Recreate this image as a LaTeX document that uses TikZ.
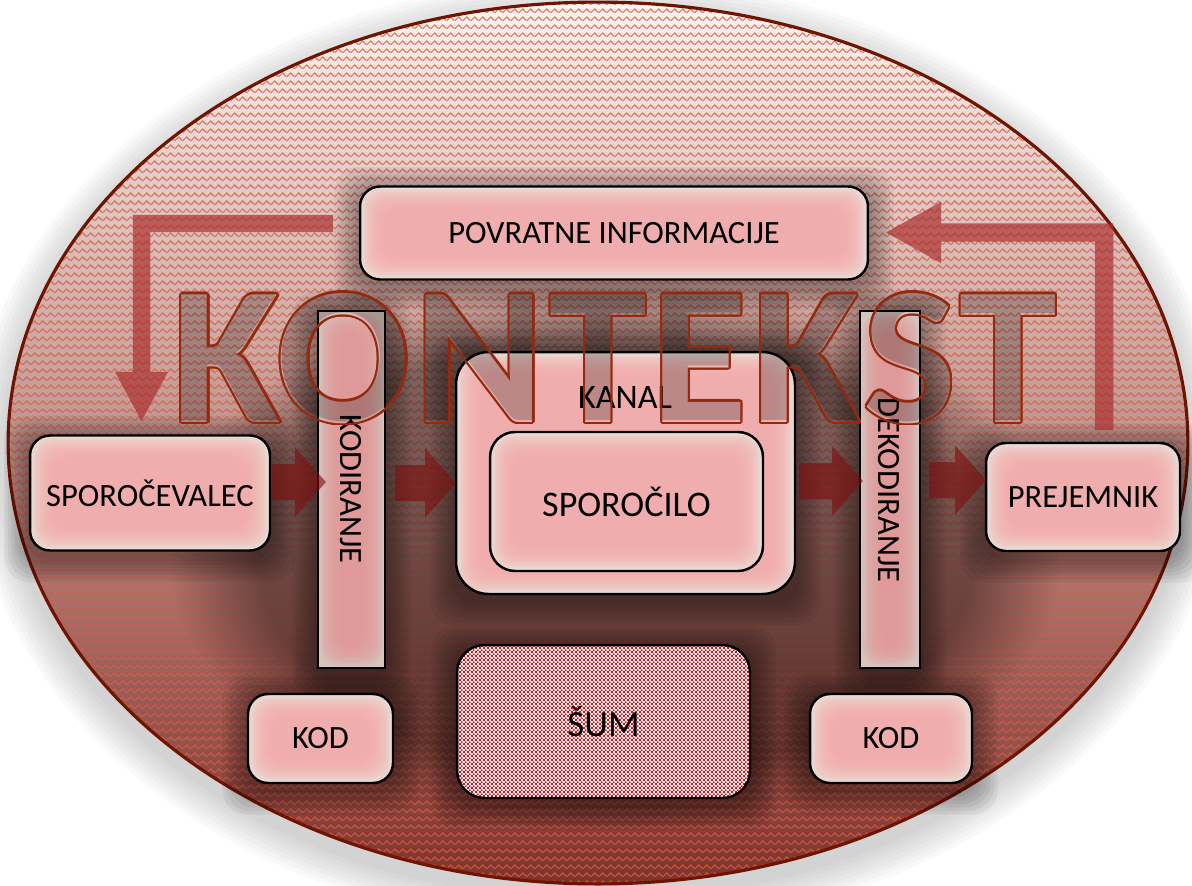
\documentclass[tikz,border=0pt]{standalone}
\usepackage{fontspec}
\setmainfont{Carlito}
\usetikzlibrary{arrows.meta,patterns,fadings}
\definecolor{boxpink}{RGB}{244,170,170}
\definecolor{boxbeige}{RGB}{234,222,214}
\definecolor{barpink}{RGB}{226,150,150}
\definecolor{barbeige}{RGB}{214,196,190}
\definecolor{ellborder}{RGB}{110,20,0}
\definecolor{kstroke}{RGB}{145,42,15}
\definecolor{arrred}{RGB}{125,15,15}
\definecolor{fbred}{RGB}{170,45,45}
\definecolor{elltop}{RGB}{250,244,242}
\definecolor{ellmid}{RGB}{222,196,192}
\definecolor{ellbot}{RGB}{125,50,45}
\definecolor{dotred}{RGB}{226,90,60}
\definecolor{sumred}{RGB}{210,20,25}
\newcommand{\kfont}{\fontsize{112}{112}\bfseries\addfontfeatures{LetterSpace=2.5}}
\pgfdeclarefading{kring}{%
  \begin{pgfpicture}
    \foreach \a in {0,22.5,...,337.5}{%
      \pgftext[at={\pgfpointpolar{\a}{1.3pt}}]{\color{white}\kfont KONTEKST}}%
    \pgftext{\color{black}\kfont KONTEKST}%
  \end{pgfpicture}}
\pgfdeclarepatternformonly{zigzagp}{\pgfpointorigin}{\pgfpoint{4.4pt}{4.4pt}}{\pgfpoint{4.4pt}{4.4pt}}{%
  \pgfsetlinewidth{0.7pt}%
  \pgfpathmoveto{\pgfpoint{0pt}{0.8pt}}%
  \pgfpathlineto{\pgfpoint{2.2pt}{3.0pt}}%
  \pgfpathlineto{\pgfpoint{4.4pt}{0.8pt}}%
  \pgfusepath{stroke}}
\pgfdeclarepatternformonly{sumpat}{\pgfpointorigin}{\pgfpoint{2.4pt}{2.4pt}}{\pgfpoint{2.4pt}{2.4pt}}{%
  \pgfpathrectangle{\pgfpoint{0pt}{0pt}}{\pgfpoint{1.2pt}{1.2pt}}%
  \pgfpathrectangle{\pgfpoint{1.2pt}{1.2pt}}{\pgfpoint{1.2pt}{1.2pt}}%
  \pgfusepath{fill}}
\pgfdeclarelayer{bg}
\pgfdeclarelayer{shadow}
\pgfdeclarelayer{top}
\pgfsetlayers{bg,shadow,main,top}
\tikzset{
  glow/.style 2 args={fill=#2, path picture={
    \foreach \i in {1,...,9}{
      \fill[#1, opacity=0.22, rounded corners=0.35cm]
        ([xshift=\i*0.05cm, yshift=\i*0.05cm]path picture bounding box.south west) rectangle
        ([xshift=-\i*0.05cm, yshift=-\i*0.05cm]path picture bounding box.north east);
    }}},
  pbox/.style={draw=black, line width=1.4pt, rounded corners=0.4cm, glow={boxpink}{boxbeige},
    font=\fontsize{18.5}{22}\selectfont, inner sep=0pt, align=center},
  barbox/.style={draw=black, line width=1.4pt, glow={barpink}{barbeige}, inner sep=0pt},
  bartext/.style={rotate=-90, font=\fontsize{18.5}{22}\selectfont, inner sep=0pt},
  sumbox/.style={draw=black, line width=1.4pt, rounded corners=0.55cm, preaction={fill=white},
    pattern=sumpat, pattern color=sumred, inner sep=0pt, font=\fontsize{21}{24}\selectfont},
  blockarr/.style={line width=0.72cm, draw=arrred,
    -{Triangle[width=1.36cm, length=0.62cm]}},
  fbarrL/.style={line width=0.35cm, draw=fbred,
    -{Triangle[width=0.98cm, length=1.0cm]}},
  fbarrR/.style={line width=0.37cm, draw=fbred,
    -{Triangle[width=1.14cm, length=1.12cm]}},
  kontekst/.style={inner sep=0pt, text=black, text opacity=0.22, font=\kfont},
}
\begin{document}
\begin{tikzpicture}[x=0.02cm,y=-0.02cm]
\useasboundingbox (0,0) rectangle (1192,885);

\begin{pgfonlayer}{bg}
  \foreach \i in {1,...,8}{
    \fill[black, opacity=0.025] (598,455) ellipse [x radius=11.8cm+\i*0.09cm, y radius=8.82cm+\i*0.09cm];
  }
  \fill[white] (598,443) ellipse [x radius=11.8cm, y radius=8.82cm];
  \shade[top color=elltop, middle color=ellmid, bottom color=ellbot] (598,443) ellipse [x radius=11.8cm, y radius=8.82cm];
  \fill[pattern=zigzagp, pattern color=dotred, opacity=0.8] (598,443) ellipse [x radius=11.8cm, y radius=8.82cm];
  \fill[black, opacity=0.38, path fading=circle with fuzzy edge 20 percent] (170,280) rectangle (1060,830);
  \draw[ellborder, line width=1.8pt] (598,443) ellipse [x radius=11.8cm, y radius=8.82cm];
\end{pgfonlayer}

% nodes
\node[pbox, minimum width=10.16cm, minimum height=1.86cm] (pov) at (614,233) {POVRATNE INFORMACIJE};
\node[pbox, minimum width=4.8cm, minimum height=2.3cm] (sporoc) at (150,493) {SPOROČEVALEC};
\node[pbox, minimum width=3.88cm, minimum height=2.16cm] (prej) at (1083,497) {PREJEMNIK};
\node[barbox, minimum width=1.34cm, minimum height=7.14cm] (kodir) at (351.5,489.5) {};
\node[bartext] (kodirt) at (351,489) {KODIRANJE};
\node[barbox, minimum width=1.2cm, minimum height=7.14cm] (dekod) at (890,489.5) {};
\node[bartext] (dekodt) at (889,490) {DEKODIRANJE};
\node[pbox, rounded corners=0.65cm, minimum width=6.78cm, minimum height=4.84cm] (kanal) at (625.5,473) {};
\node[font=\fontsize{19.5}{22}\selectfont, inner sep=0pt] (kanallbl) at (625,398) {KANAL};
\node[pbox, rounded corners=0.5cm, minimum width=5.46cm, minimum height=2.78cm, font=\fontsize{20.5}{24}\selectfont] (sporocilo) at (626.5,501.5) {SPOROČILO};
\node[sumbox, minimum width=5.86cm, minimum height=3.06cm] (sum) at (603.5,721.5) {ŠUM};
\node[pbox, minimum width=2.9cm, minimum height=1.78cm] (kodl) at (320.5,738.5) {KOD};
\node[pbox, minimum width=3.24cm, minimum height=1.78cm] (kodr) at (891,738.5) {KOD};

\begin{pgfonlayer}{shadow}
  \foreach \n in {pov,sporoc,prej,kodir,dekod,kanal,sum,kodl,kodr}{
    \foreach \i in {1,...,7}{
      \fill[black, opacity=0.05, rounded corners=0.5cm]
        ([xshift=-\i*0.07cm, yshift=-\i*0.07cm-0.12cm]\n.south west) rectangle
        ([xshift=\i*0.07cm, yshift=\i*0.07cm-0.12cm]\n.north east);
    }
  }
\end{pgfonlayer}

% block arrows
\coordinate (a1s) at (272,482); \coordinate (a1e) at (326,482);
\coordinate (a2s) at (395,483); \coordinate (a2e) at (456,483);
\coordinate (a3s) at (799,481); \coordinate (a3e) at (863,481);
\coordinate (a4s) at (929,480); \coordinate (a4e) at (986,480);
\begin{scope}[transparency group, opacity=0.62]
\draw[blockarr] (a1s) -- (a1e);
\end{scope}
\begin{scope}[transparency group, opacity=0.62]
\draw[blockarr] (a2s) -- (a2e);
\end{scope}
\begin{scope}[transparency group, opacity=0.62]
\draw[blockarr] (a3s) -- (a3e);
\end{scope}
\begin{scope}[transparency group, opacity=0.62]
\draw[blockarr] (a4s) -- (a4e);
\end{scope}

% feedback arrows
\coordinate (fbLs) at (333,223.5); \coordinate (fbLe) at (141.5,422);
\coordinate (fbRs) at (1104,430); \coordinate (fbRe) at (885,232.5);
\begin{scope}[transparency group, opacity=0.68]
\draw[fbarrL] (fbLs) -| (fbLe);
\end{scope}
\begin{scope}[transparency group, opacity=0.68]
\draw[fbarrR] (fbRs) |- (fbRe);
\end{scope}

\begin{pgfonlayer}{top}
  \node[kontekst] (kont) at (615,357) {KONTEKST};
  \fill[kstroke, path fading=kring, fit fading=false, fading transform={shift={(kont.center)}}]
    (kont.center) ellipse [x radius=10cm, y radius=3cm];
\end{pgfonlayer}
\end{tikzpicture}
\end{document}
